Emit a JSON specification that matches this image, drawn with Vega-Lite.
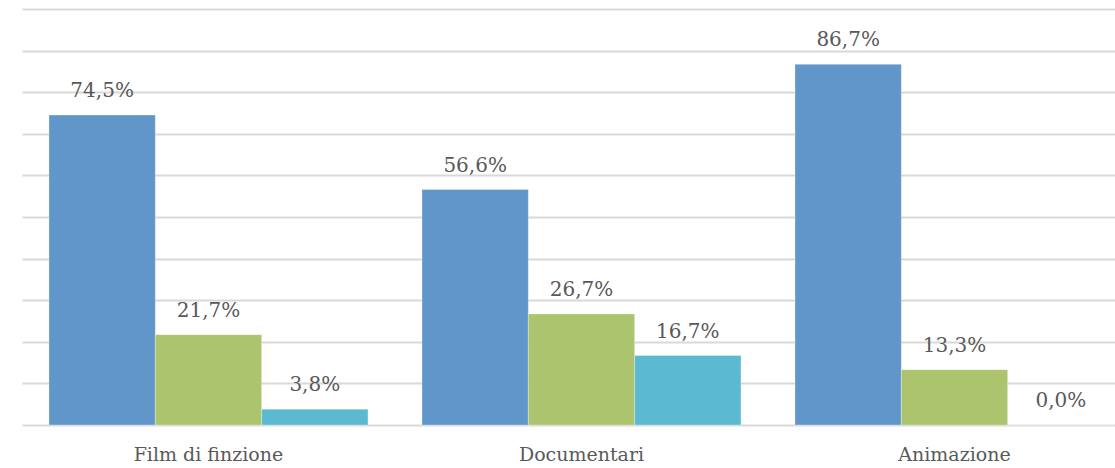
{
  "$schema": "https://vega.github.io/schema/vega-lite/v6.json",
  "width": 1093,
  "height": 416,
  "autosize": {"type": "none"},
  "padding": {"left": 22, "top": 9, "right": 0, "bottom": 43},
  "background": "white",
  "data": {
    "values": [
      {"categoria": "Film di finzione", "serie": "Serie 1", "valore": 74.5, "etichetta": "74,5%"},
      {"categoria": "Film di finzione", "serie": "Serie 2", "valore": 21.7, "etichetta": "21,7%"},
      {"categoria": "Film di finzione", "serie": "Serie 3", "valore": 3.8, "etichetta": "3,8%"},
      {"categoria": "Documentari", "serie": "Serie 1", "valore": 56.6, "etichetta": "56,6%"},
      {"categoria": "Documentari", "serie": "Serie 2", "valore": 26.7, "etichetta": "26,7%"},
      {"categoria": "Documentari", "serie": "Serie 3", "valore": 16.7, "etichetta": "16,7%"},
      {"categoria": "Animazione", "serie": "Serie 1", "valore": 86.7, "etichetta": "86,7%"},
      {"categoria": "Animazione", "serie": "Serie 2", "valore": 13.3, "etichetta": "13,3%"},
      {"categoria": "Animazione", "serie": "Serie 3", "valore": 0.0, "etichetta": "0,0%"}
    ]
  },
  "encoding": {
    "x": {
      "field": "categoria",
      "type": "nominal",
      "sort": null,
      "title": null,
      "scale": {"paddingInner": 0.1448, "paddingOuter": 0.0375, "align": 0.964},
      "axis": {
        "domain": false,
        "ticks": false,
        "labelAngle": 0,
        "labelFont": "DejaVu Serif",
        "labelFontSize": 19,
        "labelColor": "#595959",
        "labelPadding": 20
      }
    },
    "xOffset": {"field": "serie", "type": "nominal", "sort": null, "scale": {"paddingInner": 0, "paddingOuter": 0}},
    "y": {
      "field": "valore",
      "type": "quantitative",
      "title": null,
      "scale": {"domain": [0, 100], "nice": false},
      "axis": {
        "values": [0, 10, 20, 30, 40, 50, 60, 70, 80, 90, 100],
        "labels": false,
        "ticks": false,
        "domain": false,
        "grid": true,
        "gridColor": "#D9D9D9",
        "gridWidth": 2
      }
    }
  },
  "layer": [
    {
      "mark": {"type": "bar", "stroke": "white", "strokeWidth": 0.5, "strokeOpacity": 0.6},
      "encoding": {
        "color": {
          "field": "serie",
          "type": "nominal",
          "sort": null,
          "legend": null,
          "scale": {"range": ["#6096C9", "#ABC46D", "#5BB9D2"]}
        }
      }
    },
    {
      "mark": {"type": "text", "dy": -18, "font": "DejaVu Serif", "fontSize": 20, "color": "#595959", "baseline": "alphabetic"},
      "encoding": {"text": {"field": "etichetta"}}
    }
  ],
  "config": {"view": {"stroke": null}}
}
